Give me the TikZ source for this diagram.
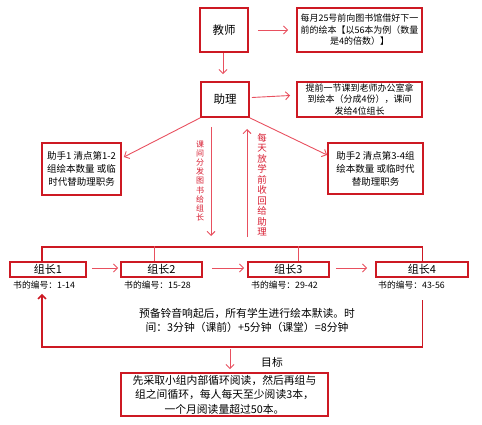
\documentclass[tikz,border=0pt]{standalone}
\usepackage{fontspec}
\setmainfont{Noto Sans CJK SC}
\usetikzlibrary{arrows.meta}
\definecolor{boxred}{RGB}{205,25,35}
\definecolor{arrred}{RGB}{232,80,95}
\definecolor{txtred}{RGB}{215,30,50}
\begin{document}
\begin{tikzpicture}[x=1pt,y=-1pt,
  box/.style={draw=boxred,line width=1.8pt,inner sep=0pt,align=center,font=\fontsize{9}{11.5}\selectfont},
  bigbox/.style={box,font=\fontsize{11.5}{13}\selectfont},
  gbox/.style={box,minimum width=#1,minimum height=15pt,font=\fontsize{11}{12}\selectfont},
  lab/.style={anchor=west,inner sep=0pt,font=\fontsize{8.8}{9}\selectfont},
  vtextA/.style={inner sep=0pt,align=center,text=txtred,font=\fontsize{8}{9.2}\selectfont},
  vtextB/.style={inner sep=0pt,align=center,text=txtred,font=\fontsize{9.5}{10.5}\selectfont},
  plain/.style={inner sep=0pt,align=center,font=\fontsize{10.8}{14}\selectfont},
  arr/.style={draw=arrred,line width=0.9pt,-{Straight Barb[length=4pt,width=8pt]}},
  frame/.style={draw=boxred,line width=1.5pt},
  framearr/.style={frame,-{Straight Barb[length=4pt,width=8pt]}},
  thinline/.style={draw=arrred,line width=0.6pt}
]
\useasboundingbox (0,0) rectangle (482,425);

% top row
\node[bigbox,minimum width=48pt,minimum height=44pt] (teacher) at (224,30) {教师};
\node[box,minimum width=125pt,minimum height=44pt] (t1) at (359.5,30)
  {每月25号前向图书馆借好下一\\前的绘本【以56本为例（数量\\是4的倍数）】};
\node[bigbox,minimum width=48pt,minimum height=35pt] (assist) at (225,99.5) {助理};
\node[box,minimum width=125pt,minimum height=35pt] (a1) at (359.5,99.5)
  {提前一节课到老师办公室拿\\到绘本（分成4份），课间\\发给4位组长};
\node[box,minimum width=79pt,minimum height=52pt,font=\fontsize{9.5}{13}\selectfont] (h1) at (81.5,169)
  {助手1 清点第1-2\\组绘本数量 或临\\时代替助理职务};
\node[box,minimum width=95pt,minimum height=51pt,font=\fontsize{9.5}{13}\selectfont] (h2) at (375.5,168.5)
  {助手2 清点第3-4组\\绘本数量 或临时代\\替助理职务};

\draw[arr] ([xshift=9pt]teacher.east) -- ([xshift=-8pt]t1.west);
\draw[arr] ([xshift=-1pt]teacher.south) -- ([xshift=-2pt,yshift=7pt]assist.north);
\draw[arr] ([xshift=2pt,yshift=2pt]assist.east) -- ([xshift=-6pt,yshift=4pt]a1.west);
\draw[arr] (assist.south west) -- ([xshift=2pt,yshift=12pt]h1.east);
\draw[arr] (assist.south east) -- ([yshift=13.5pt]h2.west);

% vertical arrows and texts
\coordinate (dstart) at (211,127);
\coordinate (dend) at (211,236);
\coordinate (ustart) at (247,237);
\coordinate (uend) at (247,129);
\draw[arr] (dstart) -- (dend);
\draw[arr] (ustart) -- (uend);
\node[vtextA] (v1) at (200,181) {课\\间\\分\\发\\图\\书\\给\\组\\长};
\node[vtextB] (v2) at (262,184.5) {每\\天\\放\\学\\前\\收\\回\\给\\助\\理};

% group leaders
\node[gbox=76pt] (g1) at (48,269.5) {组长1};
\node[gbox=81pt] (g2) at (161.5,269.5) {组长2};
\node[gbox=81pt] (g3) at (288.5,269.5) {组长3};
\node[gbox=92pt] (g4) at (422,269.5) {组长4};
\node[lab] (l1) at (13,285) {书的编号：1-14};
\node[lab] (l2) at (124,285) {书的编号：15-28};
\node[lab] (l3) at (251,285) {书的编号：29-42};
\node[lab] (l4) at (378,285) {书的编号：43-56};

\draw[arr] ([xshift=5pt,yshift=1.5pt]g1.east) -- ([xshift=-2pt,yshift=1.5pt]g2.west);
\draw[arr] ([xshift=9pt,yshift=1.5pt]g2.east) -- ([xshift=-3pt,yshift=1.5pt]g3.west);
\draw[arr] ([xshift=6pt,yshift=1.5pt]g3.east) -- ([xshift=-8pt,yshift=1.5pt]g4.west);

\coordinate (fr) at (422.5,247);
\coordinate (bl) at (42,347);
\draw[frame] ([xshift=-6pt]g1.north) |- (fr) -- ([xshift=0.5pt]g4.north);
\draw[thinline] ([xshift=-7.5pt]g2.north) -- ++(0,-15);
\draw[thinline] ([xshift=9.5pt]g3.north) -- ++(0,-15);
\draw[framearr] ([xshift=0.5pt,yshift=-22.5pt]g4.south) |- (bl) -- ([xshift=-6pt,yshift=-16pt]g1.south);

\node[plain] (mid) at (247,320) {预备铃音响起后，所有学生进行绘本默读。时\\间：3分钟（课前）+5分钟（课堂）=8分钟};

% goal
\node[box,minimum width=207pt,minimum height=43pt,font=\fontsize{10.8}{14.5}\selectfont] (goal) at (224.5,394.5)
  {先采取小组内部循环阅读，然后再组与\\组之间循环，每人每天至少阅读3本，\\一个月阅读量超过50本。};
\coordinate (gs) at (230,349);
\draw[arr] (gs) -- ([xshift=5.5pt,yshift=3pt]goal.north);
\node[plain] (target) at (272,362) {目标};
\end{tikzpicture}
\end{document}
